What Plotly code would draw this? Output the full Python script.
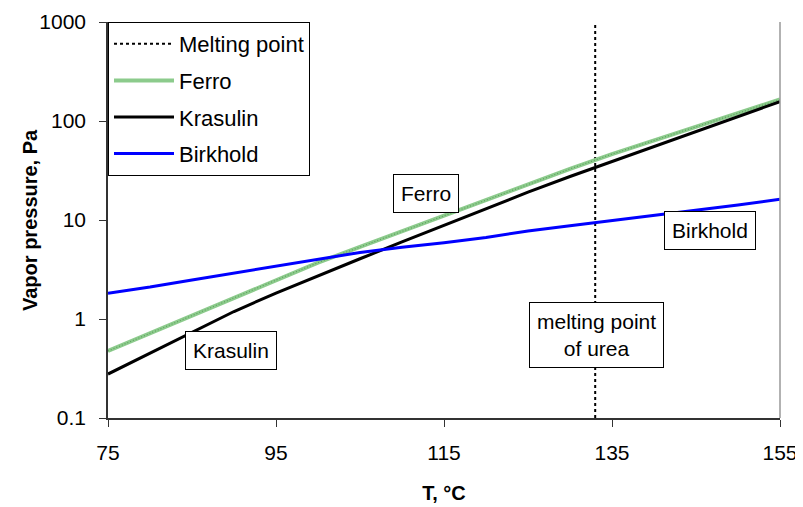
import math
import plotly.graph_objects as go

T = [75, 80, 85, 90, 95, 100, 105, 110, 115, 120, 125, 130, 135, 140, 145, 150, 155]
ferro = [0.475, 0.72, 1.09, 1.64, 2.47, 3.71, 5.35, 7.71, 11.1, 16.0, 22.9, 32.8, 46.3, 63.7, 87.5, 120, 165]
krasulin = [0.278, 0.454, 0.74, 1.19, 1.83, 2.74, 4.06, 6.0, 8.81, 12.9, 19.1, 27.5, 38.9, 55.6, 78.5, 111, 157]
birkhold = [1.82, 2.1, 2.48, 2.92, 3.4, 4.03, 4.7, 5.3, 5.88, 6.65, 7.75, 8.75, 9.85, 11.1, 12.5, 14.2, 16.2]
melting_T = 133
y_range = [0.1, 1000]
x_ticks = [75, 95, 115, 135, 155]
y_ticks = [0.1, 1, 10, 100, 1000]
y_ticklabels = ["0.1", "1", "10", "100", "1000"]

labels = [
    ("Ferro", 112.9, 18.5),
    ("Krasulin", 89.7, 0.48),
    ("melting point<br>of urea", 133.2, 0.69),
    ("Birkhold", 146.7, 7.9),
]

font = "Liberation Sans, Arial, sans-serif"
fs = 21

fig = go.Figure()
fig.add_trace(go.Scatter(x=[melting_T, melting_T], y=y_range, mode="lines",
                         name="Melting point", legendgroup="a",
                         line=dict(color="black", width=2, dash="dot")))
fig.add_trace(go.Scatter(x=T, y=ferro, mode="lines", name="Ferro", legendgroup="b",
                         line=dict(color="#8ccb8c", width=4)))
fig.add_trace(go.Scatter(x=T, y=ferro, mode="lines", name="Ferro", legendgroup="b",
                         showlegend=False, hoverinfo="skip",
                         line=dict(color="#5f9f5f", width=1.2, dash="1px,2px")))
fig.add_trace(go.Scatter(x=T, y=krasulin, mode="lines", name="Krasulin", legendgroup="c",
                         line=dict(color="black", width=3)))
fig.add_trace(go.Scatter(x=T, y=birkhold, mode="lines", name="Birkhold", legendgroup="d",
                         line=dict(color="#0000ff", width=3)))

for txt, xv, yv in labels:
    fig.add_annotation(x=xv, y=math.log10(yv), xref="x", yref="y",
                       text=txt, showarrow=False, bgcolor="white",
                       bordercolor="black", borderwidth=1, borderpad=7,
                       font=dict(family=font, size=fs, color="black"))

fig.add_annotation(x=0, y=0.5, xref="paper", yref="paper", xshift=-78,
                   text="<b>Vapor pressure, Pa</b>", textangle=-90, showarrow=False,
                   xanchor="center", yanchor="middle",
                   font=dict(family=font, size=20, color="black"))

fig.add_shape(type="line", xref="paper", yref="paper", x0=1, x1=1, y0=0, y1=1,
              line=dict(color="#999999", width=1.5))

fig.update_layout(
    width=803, height=507,
    margin=dict(l=100, r=31, t=14, b=97),
    paper_bgcolor="white", plot_bgcolor="white",
    font=dict(family=font, size=fs, color="black"),
    showlegend=True,
    legend=dict(x=0, y=1, xanchor="left", yanchor="top",
                bordercolor="black", borderwidth=1, bgcolor="white",
                font=dict(family=font, size=22, color="black"),
                itemwidth=60, tracegroupgap=5, traceorder="grouped"),
    xaxis=dict(range=[75, 155], tickvals=x_ticks, ticks="outside", ticklen=7,
               showgrid=False, zeroline=False, showline=True, linecolor="#333333",
               linewidth=1.5, tickcolor="#333333", automargin=False,
               ticklabelstandoff=8,
               tickfont=dict(family=font, size=fs),
               title=dict(text="<b>T, °C</b>", font=dict(family=font, size=20), standoff=23)),
    yaxis=dict(type="log", range=[-1, 3], tickvals=y_ticks, ticktext=y_ticklabels,
               ticks="outside", ticklen=7, showgrid=False, zeroline=False,
               showline=True, linecolor="#333333", linewidth=1.5, tickcolor="#333333",
               automargin=False, ticklabelstandoff=9,
               tickfont=dict(family=font, size=fs)),
)

fig.write_html("out.html")
